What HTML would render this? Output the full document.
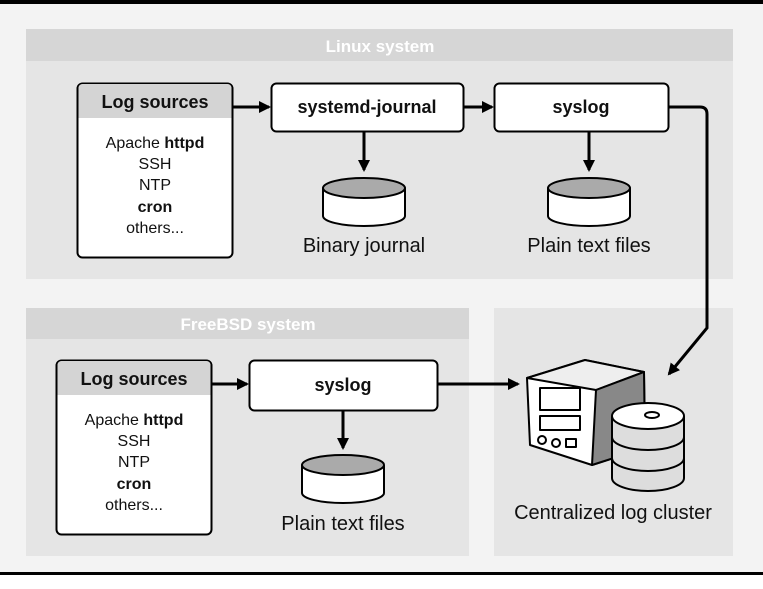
<!DOCTYPE html>
<html><head><meta charset="utf-8"><style>
body{margin:0;background:#fff}
svg{display:block}
text{font-family:"Liberation Sans",sans-serif}
</style></head><body>
<svg width="763" height="589" viewBox="0 0 763 589">
<defs>
<marker id="a" markerWidth="14" markerHeight="14" refX="10" refY="6" orient="auto" markerUnits="userSpaceOnUse"><path d="M0,0 L12,6 L0,12 z" fill="#000"/></marker>
</defs>
<rect x="0" y="0" width="763" height="589" fill="#f3f3f3"/>
<rect x="0" y="0" width="763" height="4" fill="#000"/>
<rect x="0" y="572" width="763" height="3" fill="#000"/>
<rect x="0" y="575" width="763" height="14" fill="#fff"/>
<rect x="26" y="29" width="707" height="250" fill="#e5e5e5"/>
<rect x="26" y="29" width="707" height="32" fill="#d6d6d6"/>
<text x="380" y="52" text-anchor="middle" font-size="17" font-weight="bold" fill="#fff">Linux system</text>
<rect x="26" y="308" width="443" height="248" fill="#e5e5e5"/>
<rect x="26" y="308" width="443" height="31" fill="#d6d6d6"/>
<text x="248" y="330" text-anchor="middle" font-size="17" font-weight="bold" fill="#fff">FreeBSD system</text>
<rect x="494" y="308" width="239" height="248" fill="#e5e5e5"/>

<g font-size="16" text-anchor="middle" fill="#111">
<rect x="77.5" y="83.5" width="155" height="174" rx="5" fill="#fff" stroke="#000" stroke-width="2"/>
<path d="M78.5,118 V88 a4,4 0 0 1 4,-4 H227.5 a4,4 0 0 1 4,4 V118 z" fill="#d4d4d4"/>
<text x="155" y="108" font-size="18" font-weight="bold">Log sources</text>
<text x="155" y="148">Apache <tspan font-weight="bold">httpd</tspan></text>
<text x="155" y="169">SSH</text>
<text x="155" y="190">NTP</text>
<text x="155" y="212" font-weight="bold">cron</text>
<text x="155" y="233">others...</text>

<rect x="271.5" y="83.5" width="192" height="48" rx="5" fill="#fff" stroke="#000" stroke-width="2"/>
<text x="367" y="113" font-size="18" font-weight="bold">systemd-journal</text>
<rect x="494.5" y="83.5" width="174" height="48" rx="5" fill="#fff" stroke="#000" stroke-width="2"/>
<text x="581" y="113" font-size="18" font-weight="bold">syslog</text>

<g stroke="#000" stroke-width="2">
<path d="M323,188 V216 a41,10 0 0 0 82,0 V188" fill="#fff"/>
<ellipse cx="364" cy="188" rx="41" ry="10" fill="#aaa"/>
<path d="M548,188 V216 a41,10 0 0 0 82,0 V188" fill="#fff"/>
<ellipse cx="589" cy="188" rx="41" ry="10" fill="#aaa"/>
<path d="M302,465 V493 a41,10 0 0 0 82,0 V465" fill="#fff"/>
<ellipse cx="343" cy="465" rx="41" ry="10" fill="#aaa"/>
</g>
<text x="364" y="252" font-size="20">Binary journal</text>
<text x="589" y="252" font-size="20">Plain text files</text>

<rect x="56.5" y="360.5" width="155" height="174" rx="5" fill="#fff" stroke="#000" stroke-width="2"/>
<path d="M57.5,395 V365 a4,4 0 0 1 4,-4 H206.5 a4,4 0 0 1 4,4 V395 z" fill="#d4d4d4"/>
<text x="134" y="385" font-size="18" font-weight="bold">Log sources</text>
<text x="134" y="425">Apache <tspan font-weight="bold">httpd</tspan></text>
<text x="134" y="446">SSH</text>
<text x="134" y="467">NTP</text>
<text x="134" y="489" font-weight="bold">cron</text>
<text x="134" y="510">others...</text>
<rect x="249.5" y="360.5" width="188" height="50" rx="5" fill="#fff" stroke="#000" stroke-width="2"/>
<text x="343" y="391" font-size="18" font-weight="bold">syslog</text>
<text x="343" y="530" font-size="20">Plain text files</text>
<text x="613" y="519" font-size="20">Centralized log cluster</text>
</g>

<g stroke="#000" stroke-width="3" fill="none" marker-end="url(#a)">
<path d="M233,107 H269"/>
<path d="M464,107 H492"/>
<path d="M364,132 V170"/>
<path d="M589,132 V170"/>
<path d="M212,384 H247"/>
<path d="M343,411 V448"/>
<path d="M438,384 H518"/>
<path d="M669,107 H700 q7,0 7,7 V328 L669,374"/>
</g>

<g stroke="#000" stroke-width="2" stroke-linejoin="round">
<path d="M527,378 L585,360 L644,372 L645,448 L592,465 L530,445 z" fill="#fff"/>
<path d="M527,378 L585,360 L644,372 L596,390 z" fill="#eee"/>
<path d="M596,390 L644,372 L645,448 L592,465 z" fill="#888"/>
<rect x="540" y="388" width="40" height="22" fill="#fff"/>
<rect x="540" y="416" width="40" height="14" fill="#fff"/>
<circle cx="542" cy="440" r="4" fill="#fff"/>
<circle cx="556" cy="443" r="4" fill="#fff"/>
<rect x="566" y="439" width="10" height="8" fill="#fff"/>
<path d="M612,458 V478 a36,13 0 0 0 72,0 V458" fill="#ddd"/>
<path d="M612,437 V458 a36,13 0 0 0 72,0 V437" fill="#ddd"/>
<path d="M612,416 V437 a36,13 0 0 0 72,0 V416" fill="#ddd"/>
<ellipse cx="648" cy="416" rx="36" ry="13" fill="#fff"/>
<ellipse cx="652" cy="415" rx="7" ry="3" fill="#fff"/>
</g>
</svg>
</body></html>
